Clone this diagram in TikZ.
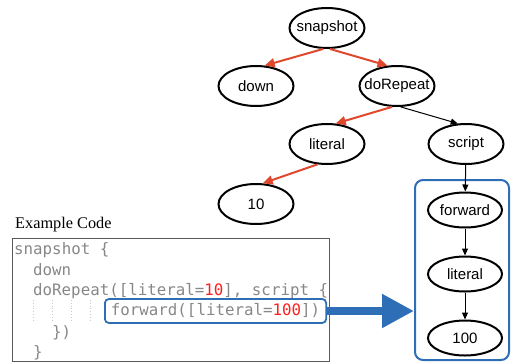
\documentclass[tikz,border=0pt]{standalone}
\usepackage{fontspec}
\setmainfont{Liberation Serif}
\setsansfont{Liberation Sans}
\setmonofont{DejaVu Sans Mono}
\usepackage{tikz}
\usetikzlibrary{shapes.geometric, arrows.meta, positioning}
\definecolor{treered}{RGB}{224, 72, 45}
\definecolor{hlblue}{RGB}{46, 110, 182}
\definecolor{codegray}{RGB}{135, 135, 135}
\definecolor{numred}{RGB}{255, 30, 30}
\definecolor{framegray}{RGB}{90, 90, 90}
\newcommand{\codenum}[1]{\textcolor{numred}{#1}}

\begin{document}
\begin{tikzpicture}[
  x=1pt, y=-1pt,
  oval/.style={draw, ellipse, line width=2pt, minimum width=75pt, minimum height=40pt,
               inner xsep=-8pt, inner ysep=0pt, font=\sffamily\fontsize{15}{18}\selectfont},
  smalloval/.style={oval, minimum width=74pt, minimum height=35pt},
  redarr/.style={-{Triangle[length=10pt, width=9pt]}, line width=2pt, draw=treered},
  arr/.style={-{Triangle[length=7pt, width=6pt]}, line width=1pt},
  bigarr/.style={-{Triangle[length=32pt, width=32pt]}, line width=8pt, draw=hlblue},
  codeline/.style={anchor=base west, inner sep=0pt, text=codegray,
                   font=\ttfamily\fontsize{15.8}{20}\selectfont},
  guide/.style={draw=codegray!45, dotted, line width=0.8pt},
]
\useasboundingbox (0,0) rectangle (511,362);

% Tree (top)
\node[oval] (snapshot) at (327,28)  {snapshot};
\node[oval] (down)     at (256,86)  {down};
\node[oval] (dorepeat) at (397,86)  {doRepeat};
\node[oval] (literal)  at (327,144) {literal};
\node[oval] (script)   at (466,144) {script};
\node[oval] (ten)      at (256,204) {10};

% Script subtree (blue frame)
\node[draw=hlblue, line width=2pt, rounded corners=8pt, minimum width=94pt,
      minimum height=180pt, inner sep=0pt] (column) at (462,270) {};
\node[smalloval] (forward) at (465,210) {forward};
\node[smalloval, below=27pt of forward]  (literalb) {literal};
\node[smalloval, below=27pt of literalb] (hundred)  {100};

% Example code (bottom left)
\node[anchor=base west, inner sep=0pt, font=\rmfamily\fontsize{16.3}{19}\selectfont]
      (title) at (15,228) {Example Code};
\node[draw=framegray, line width=1.2pt, minimum width=317pt, minimum height=123pt,
      anchor=north west, inner sep=0pt] (codebox) at (12,238) {};
\node[codeline] (c1) at (14,254) {snapshot \{};
\node[codeline] (c2) at (33,275) {down};
\node[codeline] (c3) at (33,295) {doRepeat([literal=\codenum{10}], script \{};
\foreach \gx in {33,52,71,90}
  \draw[guide] (\gx,300) -- (\gx,322);
\node[codeline, draw=hlblue, line width=1.8pt, rounded corners=4pt, inner xsep=6pt,
      inner ysep=4pt, text height=12pt, text depth=4pt]
      (c4) at (104,315) {forward([literal=\codenum{100}])};
\node[codeline] (c5) at (52,337) {\})};
\node[codeline] (c6) at (33,357) {\}};

% Arrows — tree
\draw[redarr] (snapshot.-100) -- (down.67);
\draw[redarr] (snapshot.-82)  -- (dorepeat.115);
\draw[redarr] (dorepeat.-103) -- (literal.67);
\draw[redarr] (literal.-115)  -- (ten.72);
\draw[arr]    (dorepeat.-80)  -- (script.112);

% Arrows — script
\draw[arr] (script)   -- (forward);
\draw[arr] (forward)  -- (literalb);
\draw[arr] (literalb) -- (hundred);

% Code to subtree
\draw[bigarr] (c4.east) -- (c4.east -| column.west);

\end{tikzpicture}
\end{document}
